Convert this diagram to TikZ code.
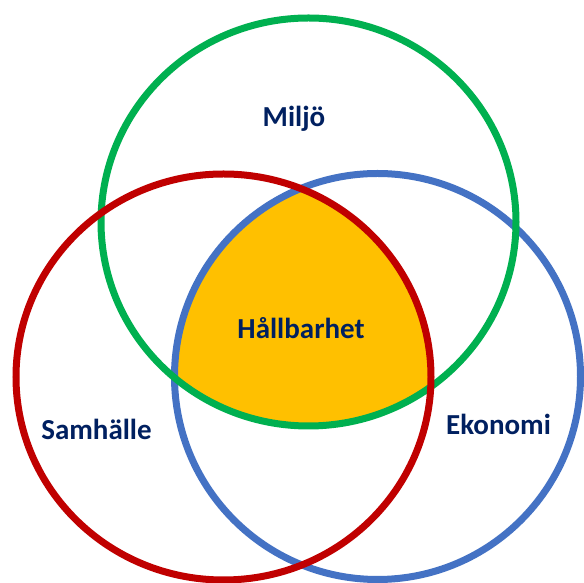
\documentclass[tikz,border=0pt]{standalone}
\usepackage{fontspec}
\setmainfont{Carlito}
\definecolor{ringgreen}{HTML}{00B050}
\definecolor{ringred}{HTML}{C00000}
\definecolor{ringblue}{HTML}{4472C4}
\definecolor{corefill}{HTML}{FFC000}
\definecolor{labelnavy}{HTML}{002060}
\begin{document}
\begin{tikzpicture}[x=1pt,y=1pt,
  ring/.style={line width=7pt},
  setlabel/.style={font=\bfseries\fontsize{29}{31}\selectfont, text=labelnavy, inner sep=0pt, anchor=base}]
\useasboundingbox (0,0) rectangle (584,583);
\clip (0,0) rectangle (584,583);
\fill[white] (0,0) rectangle (584,583);
% centres of the three sets
\coordinate (env) at (308.5,361);
\coordinate (soc) at (223.5,206);
\coordinate (eco) at (377.5,206.5);
% common core of all three sets
\begin{scope}
  \clip (env) ellipse [x radius=207.5, y radius=204];
  \clip (soc) ellipse [x radius=207.5, y radius=203];
  \fill[corefill] (eco) ellipse [x radius=203, y radius=203];
\end{scope}
% rings
\draw[ring, ringblue] (eco) ellipse [x radius=203, y radius=203];
\draw[ring, ringgreen] (env) ellipse [x radius=207.5, y radius=204];
\draw[ring, ringred] (soc) ellipse [x radius=207.5, y radius=203];
% labels
\node[setlabel] (miljo) at (294,456.4) {Miljö};
\node[setlabel] (hallbarhet) at (301,244) {Hållbarhet};
\node[setlabel] (samhalle) at (96.5,143.5) {Samhälle};
\node[setlabel] (ekonomi) at (498.5,148) {Ekonomi};
\end{tikzpicture}
\end{document}
